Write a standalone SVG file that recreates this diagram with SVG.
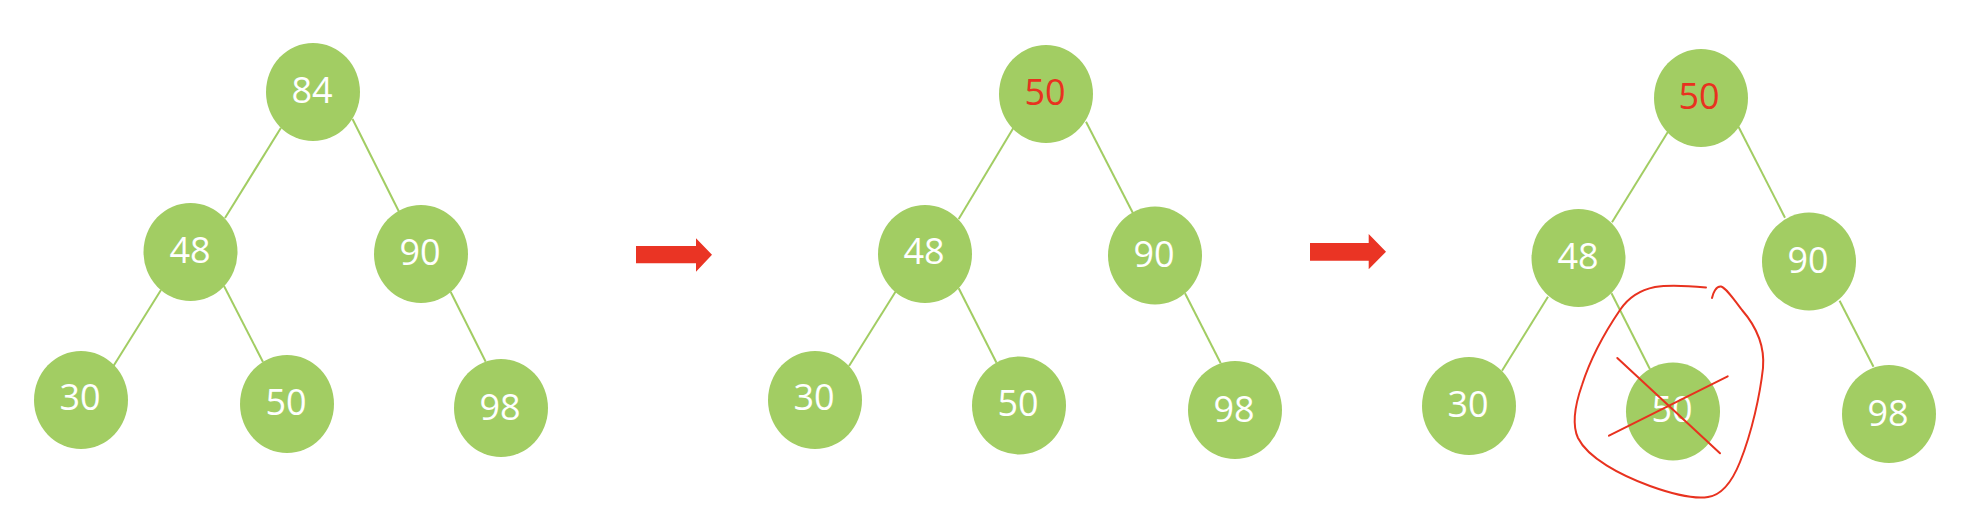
<svg xmlns="http://www.w3.org/2000/svg" width="1978" height="516" viewBox="0 0 1978 516">
<style>
.node ellipse{fill:#A2CD63;}
.node text{font-family:"Open Sans","Liberation Sans",sans-serif;font-size:36px;fill:#FFFFFF;text-anchor:middle;}
.node text.hl{fill:#E8321F;}
.edge{stroke:#A2CD63;stroke-width:2;fill:none;}
.arrow{fill:#EA3424;}
.mark{stroke:#E8321F;stroke-width:2;fill:none;stroke-linecap:round;}
</style>
<rect width="1978" height="516" fill="#FFFFFF"/>
<g id="connectors">
<line class="edge" x1="281" y1="127.7" x2="225" y2="218"/>
<line class="edge" x1="352.5" y1="119" x2="399" y2="211.7"/>
<line class="edge" x1="161" y1="290" x2="113.6" y2="365.7"/>
<line class="edge" x1="224" y1="286" x2="263" y2="362"/>
<line class="edge" x1="450.7" y1="292" x2="485.7" y2="361.7"/>
<line class="edge" x1="1013.5" y1="127.7" x2="958.7" y2="219"/>
<line class="edge" x1="1086" y1="121.7" x2="1133" y2="213.3"/>
<line class="edge" x1="895.5" y1="291.7" x2="849" y2="366"/>
<line class="edge" x1="958.7" y1="288.3" x2="996.5" y2="362.7"/>
<line class="edge" x1="1185" y1="293.3" x2="1220.7" y2="363.3"/>
<line class="edge" x1="1668" y1="131.7" x2="1612" y2="222.3"/>
<line class="edge" x1="1738.5" y1="126.7" x2="1785" y2="217.7"/>
<line class="edge" x1="1548" y1="296.7" x2="1502" y2="370.7"/>
<line class="edge" x1="1611.5" y1="293.3" x2="1650" y2="369.3"/>
<line class="edge" x1="1839.6" y1="300.7" x2="1873.5" y2="366.7"/>
<path id="arrow1" class="arrow" d="M636,246 H696 V238.3 L712,254.7 L696,271.7 V263.3 H636 Z"/>
<path id="arrow2" class="arrow" d="M1310,243 H1368.7 V234 L1386,251.7 L1368.7,269.3 V260.7 H1310 Z"/>
</g>
<g id="t1-84" class="node"><ellipse cx="313" cy="92" rx="47" ry="49"/><text x="312" y="103">84</text></g>
<g id="t1-48" class="node"><ellipse cx="190.5" cy="252" rx="47" ry="49"/><text x="190" y="263">48</text></g>
<g id="t1-90" class="node"><ellipse cx="421" cy="254" rx="47" ry="49"/><text x="420" y="265">90</text></g>
<g id="t1-30" class="node"><ellipse cx="81" cy="400" rx="47" ry="49"/><text x="80" y="410">30</text></g>
<g id="t1-50" class="node"><ellipse cx="287" cy="404" rx="47" ry="49"/><text x="286" y="415">50</text></g>
<g id="t1-98" class="node"><ellipse cx="501" cy="408" rx="47" ry="49"/><text x="500" y="420">98</text></g>

<g id="t2-50" class="node"><ellipse cx="1046" cy="94" rx="47" ry="49"/><text class="hl" x="1045" y="105">50</text></g>
<g id="t2-48" class="node"><ellipse cx="925" cy="254" rx="47" ry="49"/><text x="924" y="264">48</text></g>
<g id="t2-90" class="node"><ellipse cx="1155" cy="255.5" rx="47" ry="49"/><text x="1154" y="267">90</text></g>
<g id="t2-30" class="node"><ellipse cx="815" cy="400" rx="47" ry="49"/><text x="814" y="410">30</text></g>
<g id="t2-50b" class="node"><ellipse cx="1019" cy="405.5" rx="47" ry="49"/><text x="1018" y="416">50</text></g>
<g id="t2-98" class="node"><ellipse cx="1235" cy="410" rx="47" ry="49"/><text x="1234" y="422">98</text></g>

<g id="t3-50" class="node"><ellipse cx="1701" cy="98" rx="47" ry="49"/><text class="hl" x="1699" y="109">50</text></g>
<g id="t3-48" class="node"><ellipse cx="1578.5" cy="258" rx="47" ry="49"/><text x="1578" y="269">48</text></g>
<g id="t3-90" class="node"><ellipse cx="1809" cy="261.5" rx="47" ry="49"/><text x="1808" y="273">90</text></g>
<g id="t3-30" class="node"><ellipse cx="1469" cy="406" rx="47" ry="49"/><text x="1468" y="417">30</text></g>
<g id="t3-50b" class="node"><ellipse cx="1673" cy="411.5" rx="47" ry="49"/><text x="1672" y="422">50</text></g>
<g id="t3-98" class="node"><ellipse cx="1889" cy="414" rx="47" ry="49"/><text x="1888" y="426">98</text></g>

<g id="annotation">
<line class="mark" x1="1617.3" y1="358" x2="1720" y2="453.3"/>
<line class="mark" x1="1609" y1="435.7" x2="1727.7" y2="376.3"/>
<path class="mark" d="M1706,287.5 C1690,286 1670,284.5 1655,287 C1640,290 1628,298 1620,310 C1605,332 1590,360 1582,385 C1575,405 1572,425 1578,438 C1588,458 1620,475 1650,486 C1675,495 1695,499 1708,497 C1722,495 1732,482 1740,462 C1752,432 1760,395 1763,368 C1765,345 1755,325 1742,310 C1733,298 1726,288 1721,286.5 C1716,286 1713,293 1712,298"/>
</g>
</svg>
